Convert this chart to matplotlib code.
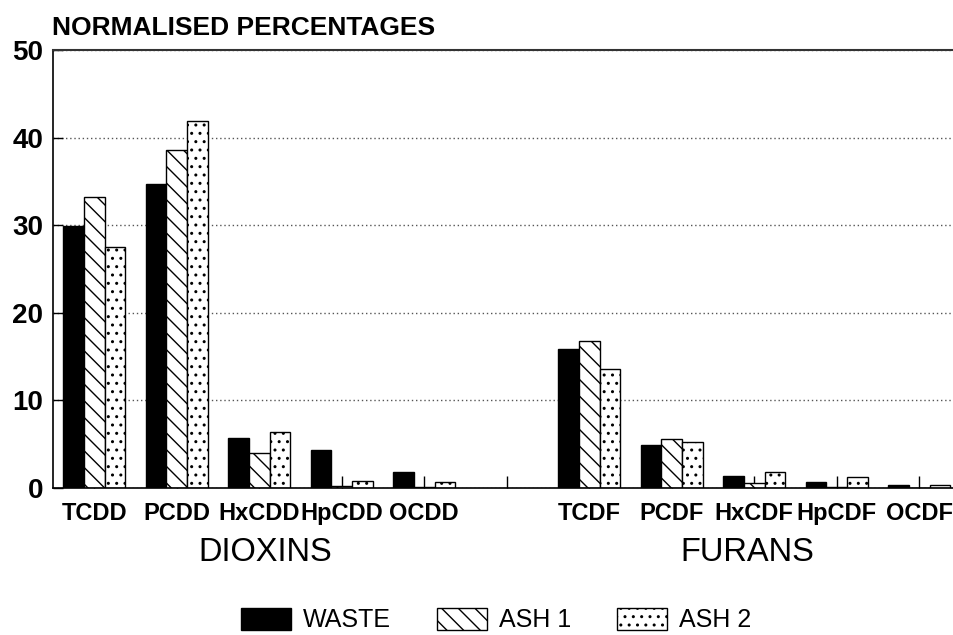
import numpy as np
import matplotlib
matplotlib.use("Agg")
from matplotlib import pyplot as plt

plt.rcParams['font.family'] = ['Liberation Sans', 'DejaVu Sans']
plt.rcParams['hatch.linewidth'] = 1.0

# congeners, with an empty slot between the two families
labels = ['TCDD', 'PCDD', 'HxCDD', 'HpCDD', 'OCDD', '',
          'TCDF', 'PCDF', 'HxCDF', 'HpCDF', 'OCDF']
slots = [0, 1, 2, 3, 4, 6, 7, 8, 9, 10]

# normalised percentages
waste = [29.9, 34.7, 5.7, 4.3, 1.8, 15.9, 4.9, 1.4, 0.7, 0.35]
ash1 = [33.2, 38.6, 4.0, 0.2, 0.1, 16.8, 5.6, 0.6, 0.1, 0.05]
ash2 = [27.5, 41.9, 6.4, 0.8, 0.7, 13.6, 5.2, 1.8, 1.2, 0.35]

series = ['WASTE', 'ASH 1', 'ASH 2']
groups = ['DIOXINS', 'FURANS']

fig = plt.figure(figsize=(9.54, 6.35), dpi=100)
ax = fig.add_axes([53 / 954, 1 - 488 / 635, (960.5 - 53) / 954, 438 / 635])

x = np.array(slots)
w = 0.25
ax.bar(x - w, waste, w, color='black', edgecolor='black', linewidth=1, label=series[0])
ax.bar(x, ash1, w, color='white', edgecolor='black', linewidth=1, hatch='\\\\', label=series[1])
ax.bar(x + w, ash2, w, color='white', edgecolor='black', linewidth=1, hatch='..', label=series[2])

ax.set_xlim(-0.5, 10.5)
ax.set_ylim(0, 50)
ax.set_yticks([0, 10, 20, 30, 40, 50])
ax.set_xticks(np.arange(len(labels)))
ax.set_xticklabels(labels, fontsize=17, fontweight='bold')
for t in ax.get_yticklabels():
    t.set_fontsize(20)
    t.set_fontweight('bold')

ax.tick_params(axis='y', direction='in', length=7, width=1, pad=7)
ax.tick_params(axis='x', direction='in', length=8.5, width=1, pad=10)

ax.yaxis.grid(True, linestyle=(0, (1, 2)), color='#555555', linewidth=1)
ax.set_axisbelow(True)

ax.spines['right'].set_visible(False)
ax.spines['top'].set_color('#333333')
ax.spines['top'].set_linewidth(1.5)
ax.spines['left'].set_linewidth(1.2)
ax.spines['bottom'].set_linewidth(1.2)

trans = ax.get_xaxis_transform()
ax.text(2.07, -0.148, groups[0], transform=trans, ha='center', va='center', fontsize=23.5)
ax.text(7.92, -0.148, groups[1], transform=trans, ha='center', va='center', fontsize=23.5)

fig.text(52 / 954, 1 - 35 / 635, 'NORMALISED PERCENTAGES', fontsize=19,
         fontweight='bold', va='baseline', ha='left')

fig.legend(loc='center', bbox_to_anchor=(496 / 954, 1 - 620 / 635), ncol=3,
           frameon=False, fontsize=18, handlelength=2.0, handleheight=1.0,
           handletextpad=0.48, columnspacing=1.84, borderpad=0)

fig.savefig('out.png', dpi=100)
